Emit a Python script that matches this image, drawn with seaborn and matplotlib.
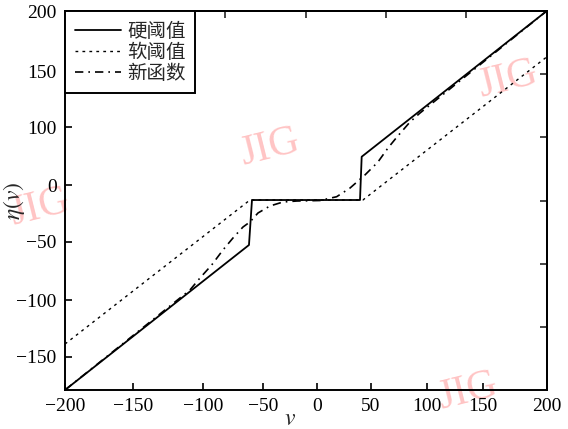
import matplotlib
matplotlib.use("Agg")

import numpy as np
import pandas as pd
import matplotlib.pyplot as plt
import seaborn as sns

# Data (frame: v from -200 to 200, eta from -180 to 200)
hard_v = [-200, -47.2, -44.7, 45.0, 46.4, 200]
hard_eta = [-180, -34.6, 10.5, 10.5, 53.9, 200]

soft_v = [-200, -46.4, 47.4, 200]
soft_eta = [-133.9, 10.5, 10.5, 153.9]

new_v = [-200, -96.2, -87.9, -78.2, -68.8, -60.5, -52.2, -46.4, -39.7, -29.8,
         -19.0, -7.4, 11.7, 25.6, 36.7, 49.1, 59.9, 68.2, 75.7, 86.5, 94.8, 200]
new_eta = [-180, -79.7, -67.7, -54.7, -39.6, -27.6, -16.6, -11.5, -2.5, 4.5,
           8.5, 9.5, 10.0, 13.8, 22.5, 35.6, 48.6, 62.6, 73.7, 88.7, 97.7, 200]

series_names = ["硬阈值", "软阈值", "新函数"]

# tick labels as printed (the scan's ticks are unevenly spaced)
x_tick_labels = ["−200", "−150", "−100", "−50", "0", "50", "100", "150", "200"]
x_tick_pos = [-200, -143.3, -85.2, -35.8, 9.0, 54.1, 100.3, 147.3, 200]
y_tick_labels = ["200", "150", "100", "0", "−50", "−100", "−150"]
y_tick_pos = [200, 139.8, 83.4, 25.5, -31.3, -89.8, -146.6]

# ticks of the original frame on top / right side (no labels)
top_tick_pos = [-133.3, -66.7, 0, 66.7, 133.3]
right_tick_pos = [136.7, 73.3, 10.0, -53.3, -116.7]

sns.set_theme(style="white")
plt.rcParams["font.family"] = ["Liberation Serif", "DejaVu Serif"]
plt.rcParams["mathtext.fontset"] = "stix"
plt.rcParams["axes.edgecolor"] = "black"
plt.rcParams["axes.linewidth"] = 1.4

fig = plt.figure(figsize=(5.68, 4.29), dpi=100)
ax = fig.add_axes([0.1144, 0.0909, 0.848, 0.8834])
ax.patch.set_visible(False)

sns.lineplot(x=hard_v, y=hard_eta, ax=ax, color="black", lw=1.3,
             estimator=None, sort=False, label=series_names[0])
sns.lineplot(x=soft_v, y=soft_eta, ax=ax, color="black", lw=1.0,
             linestyle=(0, (2, 3)), estimator=None, sort=False,
             label=series_names[1])
sns.lineplot(x=new_v, y=new_eta, ax=ax, color="black", lw=1.2,
             linestyle=(0, (5, 3, 1, 3)), estimator=None, sort=False,
             label=series_names[2])

ax.set_xlim(-200, 200)
ax.set_ylim(-180, 200)
ax.set_xticks(x_tick_pos, x_tick_labels)
ax.set_yticks(y_tick_pos, y_tick_labels)
ax.tick_params(direction="in", length=5, width=1.2, labelsize=14,
               colors="black", pad=6, top=False, right=False,
               bottom=True, left=True)

secx = ax.secondary_xaxis("top")
secx.set_xticks(top_tick_pos)
secx.tick_params(direction="in", length=5, width=1.2, labeltop=False)
secy = ax.secondary_yaxis("right")
secy.set_yticks(right_tick_pos)
secy.tick_params(direction="in", length=5, width=1.2, labelright=False)

ax.set_xlabel("$v$", fontsize=17)
ax.xaxis.set_label_coords(0.467, -0.05)
ax.set_ylabel(r"$\eta(v)$", fontsize=17)
ax.yaxis.set_label_coords(-0.079, 0.5)

leg = ax.legend(loc="upper left", borderaxespad=0, frameon=True,
                fancybox=False, edgecolor="black", framealpha=1,
                prop={"family": ["Noto Sans CJK SC", "DejaVu Sans"], "size": 14},
                handlelength=2.4, handletextpad=0.3, labelspacing=0.0,
                borderpad=0.5)
leg.get_frame().set_linewidth(1.4)

# pink "JIG" watermarks of the journal, kept behind the plot
wm_style = dict(color="#ffc4c4", fontsize=30, rotation=14, zorder=-5,
                ha="center", va="center", family="Liberation Serif")
fig.text(270 / 568, 1 - 148 / 429, "JIG", **wm_style)
fig.text(508 / 568, 1 - 80 / 429, "JIG", **wm_style)
fig.text(40 / 568, 1 - 208 / 429, "JIG", **wm_style)
fig.text(468 / 568, 1 - 392 / 429, "JIG", **wm_style)

fig.savefig("out.png", dpi=100)
